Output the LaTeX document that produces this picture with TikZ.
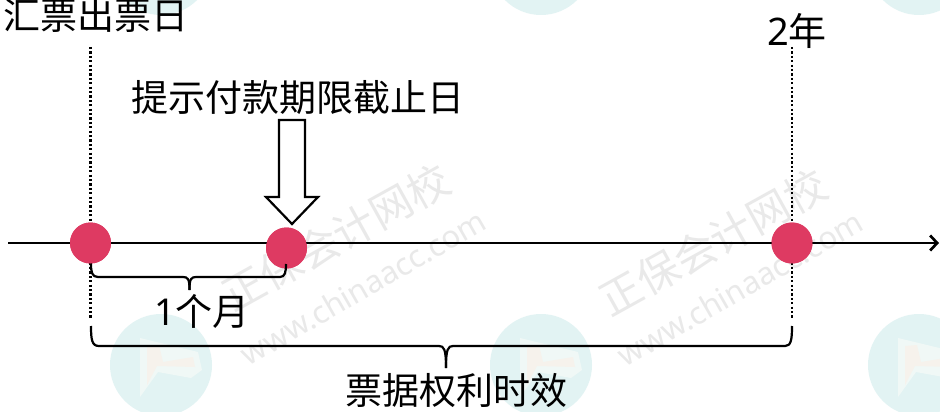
\documentclass[tikz,border=0pt]{standalone}
\usepackage{fontspec}
\setmainfont{Noto Sans CJK SC}
\newfontfamily\latinf{Noto Sans}
\usetikzlibrary{arrows.meta}
\definecolor{dotred}{RGB}{222,58,98}
\definecolor{wmteal}{RGB}{226,243,243}
\definecolor{wmgray}{RGB}{233,233,233}
\definecolor{wmpaper}{RGB}{240,248,246}
\definecolor{wmpeach}{RGB}{246,242,236}
\tikzset{
  lab/.style={font=\fontsize{37}{37}\selectfont,text=black,inner sep=0pt},
  dot/.style={circle,fill=dotred,minimum size=41pt,inner sep=0pt},
  guide/.style={line width=2.4pt,dash pattern=on 2.2pt off 2.2pt},
  brace/.style={line width=2.2pt,line join=round},
  wmcn/.style={font=\fontsize{42}{42}\selectfont,text=wmgray,rotate=29,inner sep=0pt},
  wmen/.style={font=\latinf\fontsize{31}{31}\selectfont,text=wmgray,rotate=30,inner sep=0pt},
  wmdisc/.style={circle,fill=wmteal,minimum size=102pt,inner sep=0pt}
}
\begin{document}
\begin{tikzpicture}[x=1pt,y=-1pt]
\useasboundingbox (0,0) rectangle (940,412);
\fill[white] (0,0) rectangle (940,412);
% watermark discs
\foreach \n/\cx/\cy in {a/161/365,b/541/365,c/919/365,d/541/-36,e/161/-36,f/919/-36}{
  \node[wmdisc] (disc\n) at (\cx,\cy) {};
}
\foreach \cx in {161,541,919}{
  \fill[wmpaper] (\cx-21,338) -- (\cx+37,352) -- (\cx+41,370) -- (\cx+30,378) -- (\cx-3,372) -- (\cx-21,397) -- cycle;
  \fill[wmpeach] (\cx-14,346) -- (\cx-2,345) -- (\cx+2,362) -- (\cx+32,357) -- (\cx+34,367) -- (\cx-4,366) -- (\cx-14,385) -- cycle;
}
% watermark text
\node[wmcn] (wm1) at (336,237) {正保会计网校};
\node[wmen] (wm2) at (363,287) {www.chinaacc.com};
\node[wmcn] (wm3) at (713,242) {正保会计网校};
\node[wmen] (wm4) at (740,288) {www.chinaacc.com};
% points
\node[dot] (p1) at (90.5,243) {};
\node[dot] (p2) at (286.5,248) {};
\node[dot] (p3) at (792,243) {};
\coordinate (axs) at (8,243);
\coordinate (axe) at (939,243);
% labels above
\node[lab] (t1) at (96,15) {汇票出票日};
\node[lab] (t2) at (797,31) {\latinf\fontsize{38}{38}\selectfont 2\rmfamily 年};
\node[lab] (t3) at (298,98) {提示付款期限截止日};
% guides
\coordinate (g1t) at (90.5,47);
\coordinate (g1b) at (90.5,319);
\coordinate (g3t) at (792,47);
\coordinate (g3b) at (792,319);
\draw[guide] (g1t) -- (g1b);
\draw[guide] (g3t) -- (g3b);
% axis
\draw[line width=2.7pt,-{Straight Barb[length=7pt,width=15pt,line width=2.7pt]}] (axs) -- (axe);
\node[dot] at (p1) {};
\node[dot] at (p2) {};
\node[dot] at (p3) {};
% hollow arrow
\draw[line width=2.2pt,fill=white,line join=miter]
  (279,120) -- (305,120) -- (305,197) -- (318,197) -- (292,224) -- (266,197) -- (279,197) -- cycle;
% braces
\coordinate (b1l) at (91,264);
\coordinate (b1r) at (286,264);
\coordinate (b1m) at (189.5,290);
\draw[brace] (b1l) .. controls (91,272) and (92,277) .. (98,277) -- (183,277) .. controls (188,277) and (189.5,279) .. (b1m);
\draw[brace] (b1r) .. controls (286,272) and (285,277) .. (280,277) -- (196,277) .. controls (191,277) and (189.5,279) .. (b1m);
\coordinate (b2l) at (91,326);
\coordinate (b2r) at (792,326);
\coordinate (b2m) at (446,368);
\draw[brace] (b2l) .. controls (91,340) and (92,346) .. (99,346) -- (439,346) .. controls (444,346) and (446,349) .. (b2m);
\draw[brace] (b2r) .. controls (792,340) and (791,346) .. (785,346) -- (453,346) .. controls (448,346) and (446,349) .. (b2m);
% labels below
\node[lab] (t4) at (202,311) {\latinf\fontsize{37}{37}\selectfont 1\rmfamily 个月};
\node[lab] (t5) at (456,391) {票据权利时效};
\end{tikzpicture}
\end{document}
